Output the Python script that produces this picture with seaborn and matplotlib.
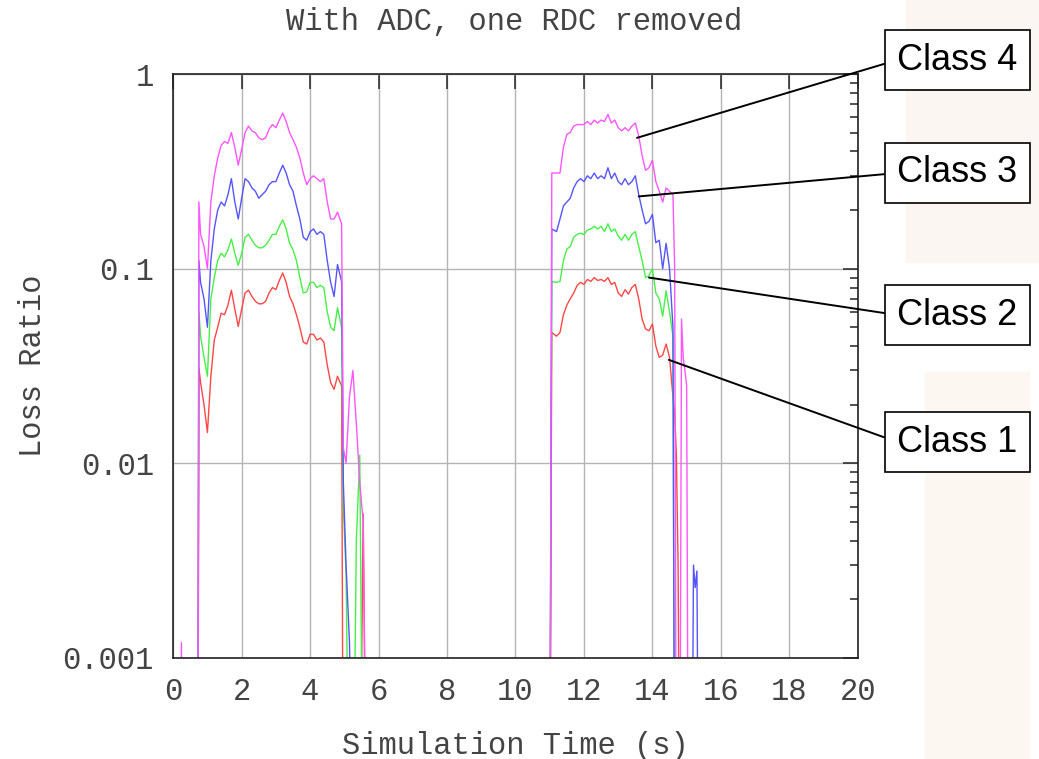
import numpy as np
import pandas as pd
import seaborn as sns
import matplotlib.pyplot as plt
from matplotlib.patches import Rectangle
from matplotlib.ticker import FixedLocator, FixedFormatter, LogLocator, NullFormatter

F = 1e-4  # value below the plotted range (line drops off the bottom)

# small spike of class 4 near t=0.25
spike_t = [0.20, 0.24, 0.28]
spike_class4 = [F, 0.0012, F]

# first congestion period
t_a = [0.72, 0.75, 0.8, 0.9, 1.0, 1.1, 1.2, 1.3, 1.4, 1.5,
       1.6, 1.7, 1.8, 1.9, 2.0, 2.1, 2.2, 2.3, 2.4, 2.5,
       2.6, 2.7, 2.8, 2.9, 3.0, 3.1, 3.2, 3.3, 3.4, 3.5,
       3.6, 3.7, 3.8, 3.9, 4.0, 4.1, 4.2, 4.3, 4.4, 4.5,
       4.6, 4.7, 4.8, 4.92, 4.97, 5.05, 5.15, 5.25, 5.35, 5.45,
       5.55, 5.65, 5.75]
class4_a = [F, 0.22, 0.15, 0.13, 0.10, 0.22, 0.30, 0.37, 0.43, 0.45,
            0.44, 0.50, 0.42, 0.34, 0.41, 0.50, 0.54, 0.51, 0.50, 0.47,
            0.46, 0.47, 0.52, 0.55, 0.53, 0.58, 0.63, 0.57, 0.50, 0.46,
            0.42, 0.37, 0.31, 0.27, 0.29, 0.30, 0.29, 0.28, 0.29, 0.22,
            0.18, 0.18, 0.195, 0.17, 0.012, 0.010, 0.022, 0.030, 0.016, 0.008,
            0.005, F, F]
class3_a = [F, 0.11, 0.085, 0.07, 0.05, 0.11, 0.16, 0.20, 0.22, 0.21,
            0.24, 0.29, 0.22, 0.18, 0.23, 0.29, 0.28, 0.26, 0.25, 0.23,
            0.24, 0.25, 0.27, 0.28, 0.28, 0.31, 0.34, 0.31, 0.27, 0.25,
            0.21, 0.18, 0.145, 0.14, 0.155, 0.16, 0.15, 0.155, 0.15, 0.11,
            0.085, 0.072, 0.105, 0.086, 0.008, 0.003, 0.0012, F, F, F,
            F, F, F]
class2_a = [F, 0.06, 0.045, 0.035, 0.028, 0.07, 0.09, 0.11, 0.12, 0.115,
            0.125, 0.142, 0.12, 0.104, 0.12, 0.145, 0.15, 0.14, 0.132, 0.128,
            0.128, 0.132, 0.14, 0.15, 0.15, 0.165, 0.178, 0.16, 0.135, 0.125,
            0.11, 0.09, 0.075, 0.076, 0.085, 0.085, 0.08, 0.082, 0.08, 0.06,
            0.05, 0.048, 0.063, 0.05, 0.006, 0.0027, F, F, 0.004, 0.011,
            F, F, F]
class1_a = [F, 0.031, 0.026, 0.02, 0.0144, 0.028, 0.043, 0.05, 0.059, 0.058,
            0.065, 0.0775, 0.062, 0.0505, 0.062, 0.075, 0.0775, 0.072, 0.068, 0.066,
            0.066, 0.068, 0.075, 0.08, 0.078, 0.087, 0.095, 0.085, 0.072, 0.066,
            0.058, 0.05, 0.042, 0.041, 0.046, 0.046, 0.043, 0.044, 0.042, 0.032,
            0.026, 0.024, 0.028, 0.025, F, F, F, F, F, F,
            0.0055, F, F]

# second congestion period
t_b = [11.0, 11.06, 11.2, 11.3, 11.4, 11.5, 11.6, 11.7, 11.8, 11.9,
       12.0, 12.1, 12.2, 12.3, 12.4, 12.5, 12.6, 12.7, 12.8, 12.9,
       13.0, 13.1, 13.2, 13.3, 13.4, 13.5, 13.6, 13.7, 13.8, 13.9,
       14.0, 14.1, 14.2, 14.3, 14.4, 14.5, 14.6, 14.65, 14.7, 14.75,
       14.8, 14.85, 14.9, 14.95, 15.0, 15.05, 15.1, 15.15, 15.2, 15.25,
       15.3, 15.35, 15.4]
class4_b = [F, 0.31, 0.31, 0.31, 0.42, 0.49, 0.50, 0.54, 0.55, 0.55,
            0.55, 0.57, 0.55, 0.58, 0.56, 0.58, 0.57, 0.62, 0.56, 0.58,
            0.53, 0.51, 0.53, 0.51, 0.54, 0.56, 0.48, 0.38, 0.32, 0.33,
            0.36, 0.28, 0.25, 0.22, 0.26, 0.25, 0.24, 0.10, F, F,
            F, 0.055, 0.035, 0.03, 0.025, F, F, F, F, F,
            F, F, F]
class3_b = [F, 0.16, 0.155, 0.18, 0.21, 0.22, 0.23, 0.26, 0.28, 0.29,
            0.28, 0.30, 0.29, 0.31, 0.29, 0.30, 0.29, 0.33, 0.29, 0.31,
            0.28, 0.27, 0.29, 0.27, 0.28, 0.30, 0.24, 0.20, 0.17, 0.175,
            0.19, 0.136, 0.14, 0.10, 0.135, 0.10, 0.05, F, F, F,
            F, F, F, F, F, F, F, F, 0.003, 0.0023,
            0.0028, F, F]
class2_b = [F, 0.086, 0.085, 0.086, 0.11, 0.126, 0.13, 0.145, 0.15, 0.152,
            0.15, 0.158, 0.16, 0.165, 0.16, 0.165, 0.155, 0.17, 0.155, 0.16,
            0.147, 0.14, 0.15, 0.14, 0.15, 0.155, 0.13, 0.11, 0.09, 0.092,
            0.10, 0.075, 0.07, 0.057, 0.077, 0.06, 0.045, F, F, F,
            F, F, F, F, F, F, F, F, F, F,
            F, F, F]
class1_b = [F, 0.047, 0.045, 0.047, 0.058, 0.065, 0.07, 0.075, 0.082, 0.085,
            0.083, 0.088, 0.086, 0.09, 0.087, 0.088, 0.086, 0.09, 0.083, 0.085,
            0.075, 0.072, 0.078, 0.074, 0.08, 0.083, 0.07, 0.055, 0.049, 0.048,
            0.052, 0.04, 0.035, 0.036, 0.041, 0.035, 0.022, 0.018, 0.011, 0.003,
            F, F, F, F, F, F, F, F, F, F,
            F, F, F]

class_names = ["Class 1", "Class 2", "Class 3", "Class 4"]
# points on the curves where the callout lines end
callout_time = [14.48, 13.9, 13.6, 13.55]
callout_loss = [0.034, 0.09, 0.235, 0.47]

y_ticks = [0.001, 0.01, 0.1, 1]
y_ticklabels = ["0.001", "0.01", "0.1", "1"]
x_ticks = [0, 2, 4, 6, 8, 10, 12, 14, 16, 18, 20]

frames = [
    pd.DataFrame({"time": t_a + t_b, "loss": class1_a + class1_b, "cls": "Class 1"}),
    pd.DataFrame({"time": t_a + t_b, "loss": class2_a + class2_b, "cls": "Class 2"}),
    pd.DataFrame({"time": t_a + t_b, "loss": class3_a + class3_b, "cls": "Class 3"}),
    pd.DataFrame({"time": spike_t + t_a + t_b, "loss": spike_class4 + class4_a + class4_b, "cls": "Class 4"}),
]
df = pd.concat(frames, ignore_index=True)

sns.set_style("white")
mono = "Liberation Mono"
txt_col = "#444444"

fig = plt.figure(figsize=(10.39, 7.59), dpi=100)
# faint slide background shapes on the right
fig.patches.append(Rectangle((0.872, 0.655), 0.128, 0.345, transform=fig.transFigure,
                             color="#fcf6f2", zorder=-5))
fig.patches.append(Rectangle((0.89, 0.0), 0.10, 0.51, transform=fig.transFigure,
                             color="#fdf7f1", zorder=-5))

ax = fig.add_axes([0.1667, 0.1331, 0.6589, 0.7694])
ax.set_zorder(2)

palette = {"Class 1": "#ff4646", "Class 2": "#46f046", "Class 3": "#5555ff", "Class 4": "#ff55ff"}
sns.lineplot(data=df, x="time", y="loss", hue="cls", hue_order=class_names,
             palette=palette, estimator=None, sort=False, lw=1.0, legend=False, ax=ax)

ax.set_yscale("log")
ax.set_xlim(0, 20)
ax.set_ylim(0.001, 1)
ax.xaxis.set_major_locator(FixedLocator(x_ticks))
ax.yaxis.set_major_locator(FixedLocator(y_ticks))
ax.yaxis.set_major_formatter(FixedFormatter(y_ticklabels))
ax.yaxis.set_minor_locator(LogLocator(base=10, subs=np.arange(2, 10)))
ax.yaxis.set_minor_formatter(NullFormatter())

ax.grid(True, which="major", color="#b4b4b4", lw=1.0)
for s in ax.spines.values():
    s.set_color("#222222")
    s.set_linewidth(1.2)
ax.tick_params(which="both", direction="in", top=True, right=True, color="#222222", width=1.1)
ax.tick_params(which="major", length=10.5)
ax.tick_params(which="minor", length=5.5)
ax.tick_params(axis="y", which="major", pad=14, labelsize=22, labelcolor=txt_col)
ax.tick_params(axis="x", which="major", pad=14, labelsize=22, labelcolor=txt_col)
for lab in ax.get_xticklabels() + ax.get_yticklabels():
    lab.set_family(mono)

ax.set_xlabel("Simulation Time (s)", family=mono, fontsize=22, color=txt_col)
ax.set_ylabel("Loss Ratio", family=mono, fontsize=22, color=txt_col)
ax.xaxis.set_label_coords(0.5, -0.125)
ax.yaxis.set_label_coords(-0.183, 0.5)
fig.text(0.495, 1 - 22 / 759, "With ADC, one RDC removed", family=mono, fontsize=22,
         color=txt_col, ha="center", va="center")

box_y = [1 - 442 / 759, 1 - 315 / 759, 1 - 173 / 759, 1 - 60 / 759]
for name, xt, yl, by in zip(class_names, callout_time, callout_loss, box_y):
    ax.annotate(name, xy=(xt, yl), xycoords="data",
                xytext=(0.8635, by), textcoords="figure fraction",
                ha="left", va="center", fontsize=26, family="Liberation Sans", color="black",
                bbox=dict(boxstyle="square,pad=0.35", fc="white", ec="black", lw=1.2),
                arrowprops=dict(arrowstyle="-", color="black", lw=1.4, relpos=(0, 0.5),
                                shrinkA=0, shrinkB=0),
                annotation_clip=False)

fig.savefig("out.png", dpi=100)
